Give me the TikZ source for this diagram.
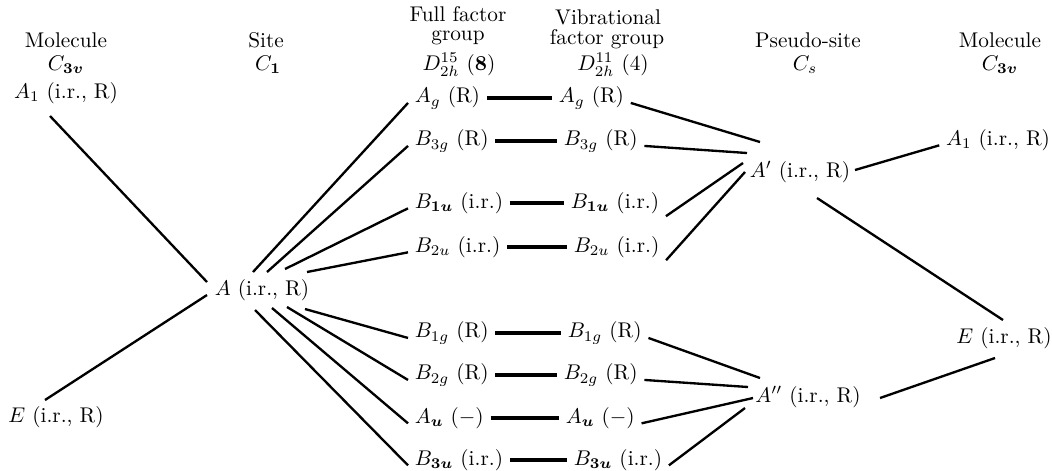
\documentclass[tikz,border=0pt]{standalone}
\usepackage{amsmath,bm}
\usetikzlibrary{calc}
\begin{document}
\begin{tikzpicture}[x=0.47pt,y=-0.47pt,
  lab/.style={inner xsep=3pt,inner ysep=1pt,font=\fontsize{10}{12}\selectfont},
  hdr/.style={inner sep=0pt,font=\fontsize{10}{12}\selectfont},
  ln/.style={line width=1.1pt},
  hl/.style={line width=1.5pt}]
\useasboundingbox (0,0) rectangle (1052,470);
% headers
\node[hdr] (hMolL) at (66,40) {Molecule};
\node[hdr] (hMolLg) at (66,65) {$C_{\bm{3v}}$};
\node[hdr] (hSite) at (266,40) {Site};
\node[hdr] (hSiteg) at (268,65) {$C_{\bm{1}}$};
\node[hdr] (hFFa) at (458,14) {Full factor};
\node[hdr] (hFFb) at (458,38) {group};
\node[hdr] (hFFc) at (459,65) {$D_{2h}^{15}$ (\textbf{8})};
\node[hdr] (hVFa) at (608,17) {Vibrational};
\node[hdr] (hVFb) at (607,39) {factor group};
\node[hdr] (hVFc) at (613,65) {$D_{2h}^{11}$ (4)};
\node[hdr] (hPS) at (808,40) {Pseudo-site};
\node[hdr] (hPSg) at (805,65) {$C_s$};
\node[hdr] (hMolR) at (1000,40) {Molecule};
\node[hdr] (hMolRg) at (1000,65) {$C_{\bm{3v}}$};
% left molecule and site
\node[lab] (A1L) at (66,93) {$A_1$ (i.r., R)};
\node[lab] (EL) at (56,417) {$E$ (i.r., R)};
\node[lab] (A) at (262,290) {$A$ (i.r., R)};
% full factor group
\node[lab,anchor=west] (Ag1) at (408,98) {$A_g$ (R)};
\node[lab,anchor=west] (B3g1) at (408,141) {$B_{3g}$ (R)};
\node[lab,anchor=west] (B1u1) at (408,203) {$B_{\bm{1u}}$ (i.r.)};
\node[lab,anchor=west] (B2u1) at (408,247) {$B_{2u}$ (i.r.)};
\node[lab,anchor=west] (B1g1) at (408,333) {$B_{1g}$ (R)};
\node[lab,anchor=west] (B2g1) at (408,375) {$B_{2g}$ (R)};
\node[lab,anchor=west] (Au1) at (408,418) {$A_{\bm{u}}$ ($-$)};
\node[lab,anchor=west] (B3u1) at (408,460) {$B_{\bm{3u}}$ (i.r.)};
% vibrational factor group
\node[lab,anchor=west] (Ag2) at (552,98) {$A_g$ (R)};
\node[lab,anchor=west] (B3g2) at (557,141) {$B_{3g}$ (R)};
\node[lab,anchor=west] (B1u2) at (564,203) {$B_{\bm{1u}}$ (i.r.)};
\node[lab,anchor=west] (B2u2) at (567,247) {$B_{2u}$ (i.r.)};
\node[lab,anchor=west] (B1g2) at (561,333) {$B_{1g}$ (R)};
\node[lab,anchor=west] (B2g2) at (557,375) {$B_{2g}$ (R)};
\node[lab,anchor=west] (Au2) at (559,418) {$A_{\bm{u}}$ ($-$)};
\node[lab,anchor=west] (B3u2) at (567,460) {$B_{\bm{3u}}$ (i.r.)};
% pseudo-site
\node[lab] (Ap) at (800,172) {$A'$ (i.r., R)};
\node[lab] (App) at (808,397) {$A''$ (i.r., R)};
% right molecule
\node[lab] (A1R) at (998,140) {$A_1$ (i.r., R)};
\node[lab] (ER) at (1004,338) {$E$ (i.r., R)};
% connectors: molecule -> site
\draw[ln] ($(A1L)+(-16,23)$) -- ($(A)+(-55,-8)$);
\draw[ln] ($(EL)+(-11,-17)$) -- ($(A)+(-55,5)$);
% site -> full factor group
\draw[ln] ($(A)+(-9,-18)$) -- (Ag1.base west);
\draw[ln] ($(A)+(5,-18)$) -- (B3g1.base west);
\draw[ln] ($(A)+(23,-21)$) -- (B1u1.base west);
\draw[ln] ($(A)+(45,-18)$) -- (B2u1.base west);
\draw[ln] ($(A)+(43,19)$) -- (B1g1.base west);
\draw[ln] ($(A)+(25,17)$) -- (B2g1.base west);
\draw[ln] ($(A)+(10,18)$) -- (Au1.base west);
\draw[ln] ($(A)+(-7,20)$) -- (B3u1.base west);
% full -> vibrational
\foreach \n in {Ag,B3g,B1u,B2u,B1g,B2g,Au,B3u}
  \draw[hl] (\n1.east) -- (\n2.west);
% vibrational -> pseudo-site
\draw[ln] (Ag2.base east) -- ($(Ap)+(-40,-30)$);
\draw[ln] (B3g2.base east) -- ($(Ap)+(-53,-19)$);
\draw[ln] (B1u2.south east) -- ($(Ap)+(-57,-9)$);
\draw[ln] (B2u2.south east) -- ($(Ap)+(-55,0)$);
\draw[ln] (B1g2.base east) -- ($(App)+(-48,-19)$);
\draw[ln] (B2g2.base east) -- ($(App)+(-60,-10)$);
\draw[ln] (Au2.base east) -- ($(App)+(-55,1)$);
\draw[ln] (B3u2.base east) -- ($(App)+(-63,11)$);
% pseudo-site -> molecule
\draw[ln] ($(Ap)+(55,-2)$) -- (A1R.base west);
\draw[ln] ($(Ap)+(17,26)$) -- ($(ER)+(-1,-18)$);
\draw[ln] ($(ER)+(-9,20)$) -- ($(App)+(72,1)$);
\end{tikzpicture}
\end{document}
